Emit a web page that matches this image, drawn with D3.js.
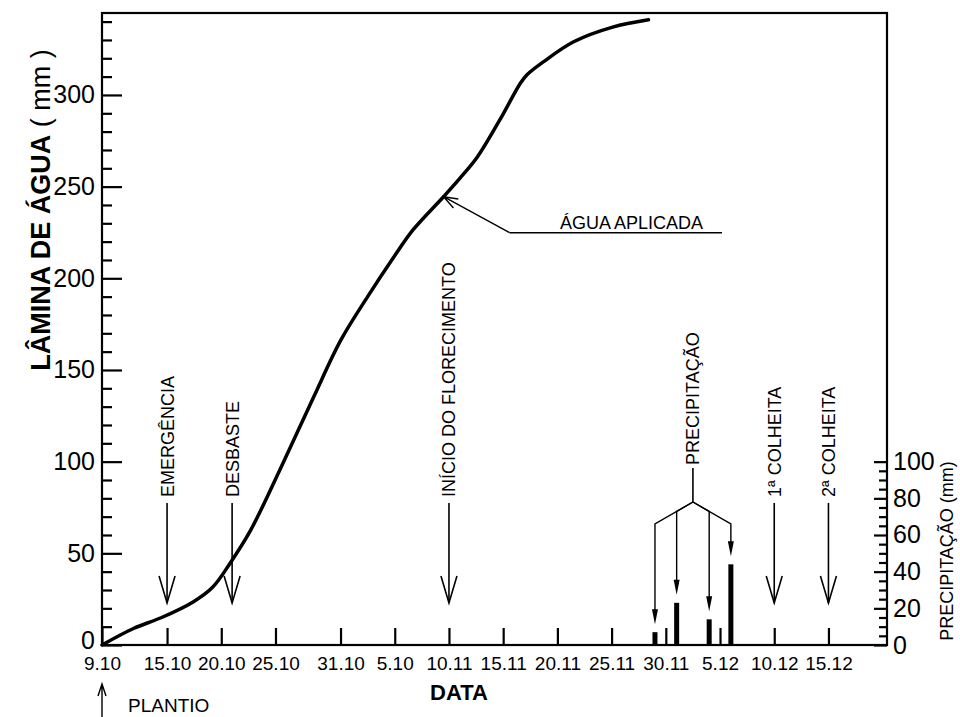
<!DOCTYPE html>
<html>
<head>
<meta charset="utf-8">
<script src="https://cdn.jsdelivr.net/npm/d3@7"></script>
<style>
body { margin: 0; background: #fff; }
text { font-family: "Liberation Sans", Arial, sans-serif; fill: #000; }
</style>
</head>
<body>
<div id="chart"></div>
<script>
// dias contados a partir do plantio (9.10)
var curveDays = [0, 2.9, 5.5, 8.4, 10.2, 11.8, 13.7, 16.4, 19.5, 22.0, 24.5, 26.9, 28.7, 31.5, 33.0, 34.6, 36.7, 38.6, 39.2, 40.7, 43.5, 47.1, 50.4];
var curveMm = [0, 9, 15, 23.5, 31.5, 44.5, 62.5, 95.5, 135, 166, 190, 211.5, 226.5, 244.5, 254.5, 266, 286.5, 306.5, 311, 318, 329, 337, 341];

var tickDays = [0, 6, 11, 16, 22, 27, 32, 37, 42, 47, 52, 57, 62, 67];
var tickLabels = ["9.10", "15.10", "20.10", "25.10", "31.10", "5.10", "10.11", "15.11", "20.11", "25.11", "30.11", "5.12", "10.12", "15.12"];

var leftTicks = [0, 50, 100, 150, 200, 250, 300];
var rightTicks = [0, 20, 40, 60, 80, 100];

var rainDays = [51, 53, 56, 58];
var rainMm = [7, 23, 14, 44];

var eventNames = ["EMERGÊNCIA", "DESBASTE", "INÍCIO DO FLORECIMENTO", "1ª COLHEITA", "2ª COLHEITA"];
var eventDays = [6, 12, 32, 62, 67];

var appliedDay = 31.5;
var appliedMm = 244.5;

main();

function main() {
	var width = 960;
	var height = 717;

	// limites da area do grafico
	var left = 102, right = 887, top = 13, bottom = 645;

	var x = d3.scaleLinear().domain([0, 72.4]).range([left, right]);
	var y = d3.scaleLinear().domain([0, 344.7]).range([bottom, top]);
	// precipitacao usa a mesma escala em mm, mas so vai ate 100
	var yRain = d3.scaleLinear().domain([0, 100]).range([bottom, y(100)]);

	var svg = d3.select('#chart')
				.append('svg')
				.attr('width', width)
				.attr('height', height);

	// eixo esquerdo - ticks menores a cada 10
	var minorLeft = d3.range(10, 341, 10).filter(function(d) { return d % 50 != 0; });
	svg.append('g')
		.attr('transform', 'translate(' + left + ',0)')
		.call(d3.axisLeft(y).tickValues(minorLeft).tickSize(-10).tickFormat(''));
	svg.append('g')
		.attr('class', 'yleft')
		.attr('transform', 'translate(' + left + ',0)')
		.call(d3.axisLeft(y).tickValues(leftTicks).tickSize(-20).tickPadding(7));
	svg.select('.yleft').selectAll('text')
		.style('font-size', '25px')
		.attr('y', function(d) { return d == 0 ? -5 : 0; }); // o zero fica um pouco acima, como no original

	// eixo de baixo (datas)
	svg.append('g')
		.attr('class', 'xaxis')
		.attr('transform', 'translate(0,' + bottom + ')')
		.call(d3.axisBottom(x).tickValues(tickDays).tickSize(-17).tickPadding(12)
			.tickFormat(function(d, i) { return tickLabels[i]; }));
	svg.select('.xaxis').selectAll('text')
		.style('font-size', '19px');

	// eixo direito (precipitacao)
	var minorRight = d3.range(5, 100, 5).filter(function(d) { return d % 20 != 0; });
	svg.append('g')
		.attr('transform', 'translate(' + right + ',0)')
		.call(d3.axisRight(yRain).tickValues(minorRight).tickSize(-8).tickFormat(''));
	svg.append('g')
		.attr('class', 'yright')
		.attr('transform', 'translate(' + right + ',0)')
		.call(d3.axisRight(yRain).tickValues(rightTicks).tickSize(-13).tickPadding(6));
	svg.select('.yright').selectAll('text')
		.style('font-size', '25px');

	svg.selectAll('.domain').remove();
	svg.selectAll('.tick line').attr('stroke-width', 2.2);
	svg.selectAll('.tick text').attr('fill', '#000');

	// moldura
	svg.append('rect')
		.attr('x', left).attr('y', top)
		.attr('width', right - left).attr('height', bottom - top)
		.attr('fill', 'none').attr('stroke', '#000').attr('stroke-width', 2.2);

	// barras de precipitacao
	svg.selectAll('.bar')
		.data(rainDays)
		.enter()
		.append('rect')
		.attr('x', function(d) { return x(d) - 2.5; })
		.attr('y', function(d, i) { return yRain(rainMm[i]); })
		.attr('width', 5)
		.attr('height', function(d, i) { return bottom - yRain(rainMm[i]); })
		.attr('fill', '#000');

	// curva da agua aplicada
	var line = d3.line()
				.x(function(d) { return x(d[0]); })
				.y(function(d) { return y(d[1]); })
				.curve(d3.curveCatmullRom.alpha(0.5));
	svg.append('path')
		.datum(d3.zip(curveDays, curveMm))
		.attr('d', line)
		.attr('fill', 'none')
		.attr('stroke', '#000')
		.attr('stroke-width', 3.5)
		.attr('stroke-linecap', 'round');

	// eventos com setas verticais
	var ev = svg.selectAll('.event')
				.data(eventDays)
				.enter()
				.append('g');
	ev.append('text')
		.attr('transform', function(d) { return 'translate(' + (x(d) + 6.5) + ',497) rotate(-90)'; })
		.style('font-size', '18px')
		.text(function(d, i) { return eventNames[i]; });
	ev.append('line')
		.attr('x1', function(d) { return x(d); }).attr('x2', function(d) { return x(d); })
		.attr('y1', 503).attr('y2', 603)
		.attr('stroke', '#000').attr('stroke-width', 1.6);
	ev.append('path')
		.attr('d', function(d) { return 'M' + (x(d) - 8) + ',576L' + x(d) + ',603L' + (x(d) + 8) + ',576'; })
		.attr('fill', 'none').attr('stroke', '#000').attr('stroke-width', 1.6);

	// precipitacao: rotulo e setas que apontam para as barras
	var jx = d3.mean(rainDays, function(d) { return x(d); });
	var jy = 502;
	svg.append('text')
		.attr('transform', 'translate(' + (jx + 6.5) + ',465) rotate(-90)')
		.style('font-size', '18px')
		.text('PRECIPITAÇÃO');
	svg.append('line')
		.attr('x1', jx).attr('x2', jx).attr('y1', 468).attr('y2', jy)
		.attr('stroke', '#000').attr('stroke-width', 1.6);
	rainDays.forEach(function(d, i) {
		var bx = x(d);
		var ey = jy + 0.58 * Math.abs(bx - jx);
		var tip = yRain(rainMm[i]) - 8;
		svg.append('path')
			.attr('d', 'M' + jx + ',' + jy + 'L' + bx + ',' + ey + 'L' + bx + ',' + (tip - 10))
			.attr('fill', 'none').attr('stroke', '#000').attr('stroke-width', 1.4);
		svg.append('path')
			.attr('d', 'M' + (bx - 3) + ',' + (tip - 15) + 'L' + bx + ',' + tip + 'L' + (bx + 3) + ',' + (tip - 15) + 'Z')
			.attr('fill', '#000');
	});

	// agua aplicada
	var tx = x(appliedDay), ty = y(appliedMm);
	var ex = tx + 66, eyy = ty + 36;
	var ang = Math.atan2(eyy - ty, ex - tx);
	var arm = function(a) { return (tx + 15 * Math.cos(ang + a)) + ',' + (ty + 15 * Math.sin(ang + a)); };
	svg.append('path')
		.attr('d', 'M' + ex + ',' + eyy + 'L' + tx + ',' + ty + 'M' + arm(0.35) + 'L' + tx + ',' + ty + 'L' + arm(-0.35))
		.attr('fill', 'none').attr('stroke', '#000').attr('stroke-width', 1.4);
	svg.append('line')
		.attr('x1', ex).attr('x2', 722).attr('y1', eyy).attr('y2', eyy)
		.attr('stroke', '#000').attr('stroke-width', 1.4);
	svg.append('text')
		.attr('x', 560).attr('y', eyy - 4)
		.style('font-size', '18px')
		.text('ÁGUA APLICADA');

	// plantio
	var px = x(0);
	svg.append('path')
		.attr('d', 'M' + px + ',717L' + px + ',684M' + (px - 4) + ',696L' + px + ',684L' + (px + 4) + ',696')
		.attr('fill', 'none').attr('stroke', '#000').attr('stroke-width', 1.4);
	svg.append('text')
		.attr('x', 128).attr('y', 712)
		.style('font-size', '19px')
		.text('PLANTIO');

	// titulos dos eixos
	svg.append('text')
		.attr('x', 459).attr('y', 700)
		.attr('text-anchor', 'middle')
		.style('font-size', '22px').style('font-weight', 'bold')
		.text('DATA');

	var yt = svg.append('text')
		.attr('transform', 'translate(50,210) rotate(-90)')
		.attr('text-anchor', 'middle')
		.style('font-size', '27px');
	yt.append('tspan').style('font-weight', 'bold').text('LÂMINA DE ÁGUA');
	yt.append('tspan').text(' ( mm )');

	svg.append('text')
		.attr('transform', 'translate(953,551) rotate(-90)')
		.attr('text-anchor', 'middle')
		.style('font-size', '18px')
		.text('PRECIPITAÇÃO (mm)');
}
</script>
</body>
</html>
